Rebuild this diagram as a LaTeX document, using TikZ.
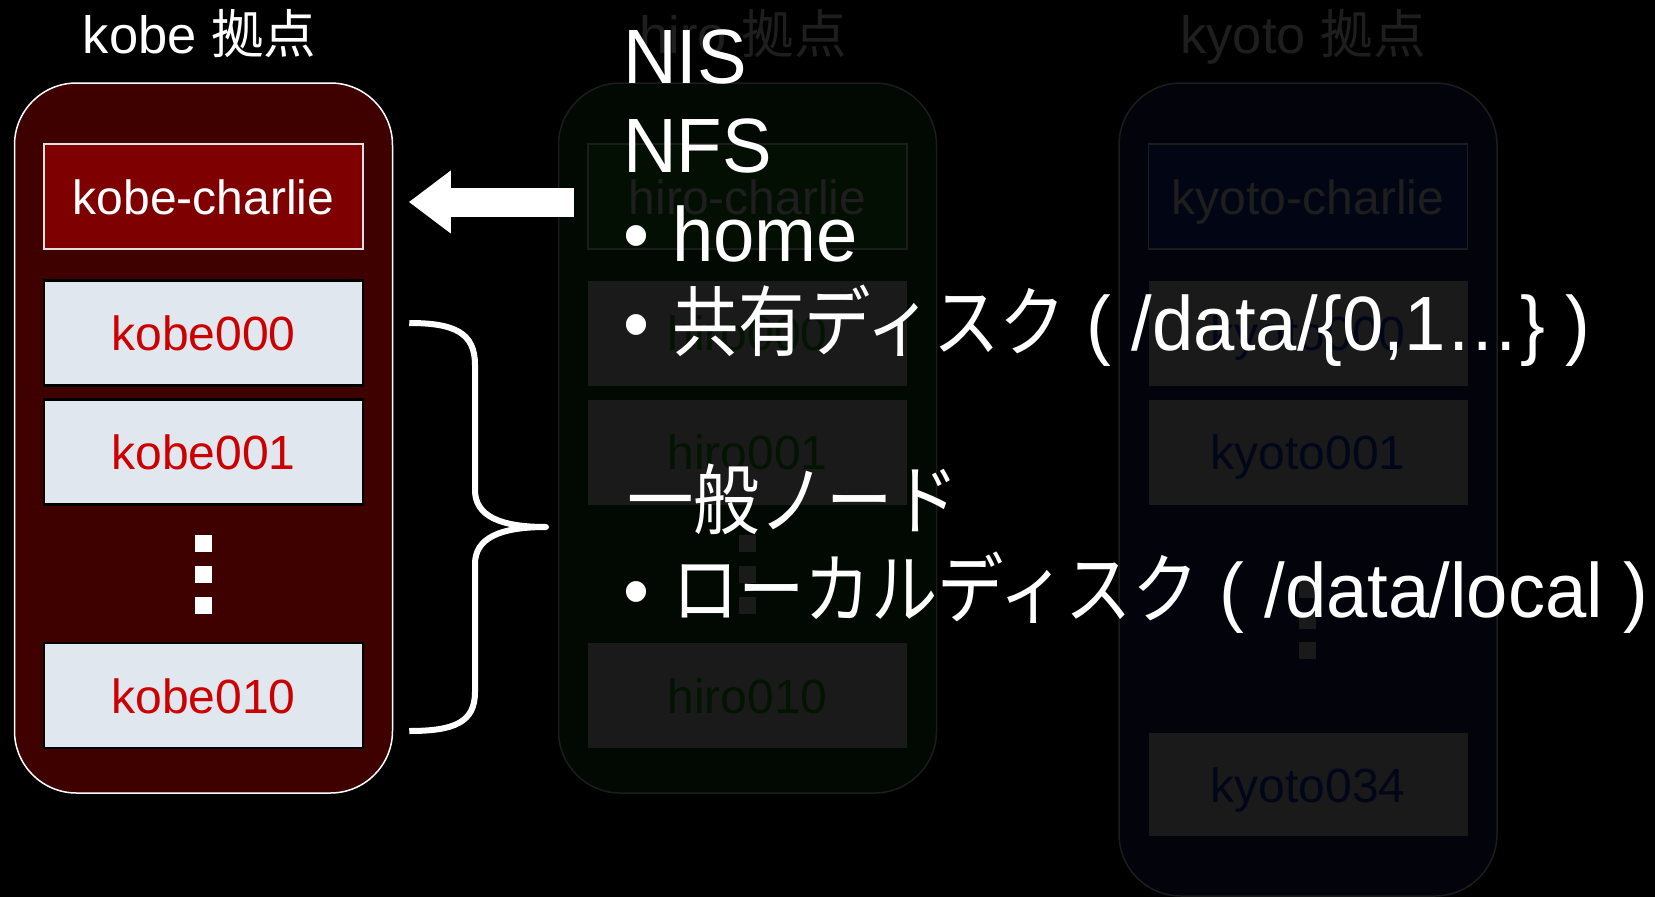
\documentclass[tikz,border=0pt]{standalone}
\usepackage{fontspec}
\setmainfont{Liberation Sans}
\newfontfamily\jp{Noto Sans CJK JP}
\newfontfamily\jpn[FakeStretch=0.862]{Noto Sans CJK JP}
\newfontfamily\ovl[FakeStretch=0.965]{Liberation Sans}
\usetikzlibrary{arrows.meta}

% kobe site
\definecolor{kobesite}{HTML}{3F0000}
\definecolor{kobehead}{HTML}{7F0000}
\definecolor{nodefill}{HTML}{E0E7EE}
\definecolor{nodetext}{HTML}{CC0000}
% dimmed sites
\definecolor{dimline}{HTML}{1C1C1C}
\definecolor{dimbox}{HTML}{1A1A1A}
\definecolor{dimtext}{HTML}{1E1E1E}
\definecolor{hirosite}{HTML}{020802}
\definecolor{hirohead}{HTML}{030F03}
\definecolor{hirotext}{HTML}{031403}
\definecolor{kyotosite}{HTML}{02030B}
\definecolor{kyotohead}{HTML}{020614}
\definecolor{kyototext}{HTML}{020619}

\newcommand\bul{\makebox[49pt][l]{•}}

\begin{document}
\begin{tikzpicture}[x=1pt,y=-1pt,
  site/.style={rounded corners=62pt, minimum width=378pt, inner sep=0pt, line width=1.5pt},
  box/.style={minimum width=319pt, minimum height=105pt, inner sep=0pt,
    text height=35pt, text depth=0pt, font=\fontsize{48}{58}\selectfont},
  headbox/.style={box, line width=1.5pt},
  workbox/.style={box, line width=2.5pt},
  dotsq/.style={minimum size=17pt, inner sep=0pt},
  title/.style={anchor=base, inner sep=0pt, font=\fontsize{52.5}{62}\selectfont},
  txt/.style={anchor=base west, inner sep=0pt, text=white, font=\fontsize{77}{90}\ovl}]

\fill[black] (0,0) rectangle (1655,897);
\useasboundingbox (0,0) rectangle (1655,897);

% ---- kobe ----
\node[title, text=white] (kobet) at (199.5,53) {kobe {\jp 拠点}};
\node[site, draw=white, fill=kobesite, minimum height=710pt] (kobe) at (203.5,438) {};
\node[headbox, draw=white!88!black, fill=kobehead, text=white] (kc) at (203.5,196.5) {kobe-charlie};
\node[workbox, draw=black, fill=nodefill, text=nodetext] (k0) at (203.5,333) {kobe000};
\node[workbox, draw=black, fill=nodefill, text=nodetext] (k1) at (203.5,452) {kobe001};
\node[dotsq, fill=white] (kd1) at (203,543.5) {};
\node[dotsq, fill=white] (kd2) at (203,574.5) {};
\node[dotsq, fill=white] (kd3) at (203,605.5) {};
\node[workbox, draw=black, fill=nodefill, text=nodetext] (k10) at (203.5,695.5) {kobe010};

% ---- hiro ----
\node[title, text=dimtext] (hirot) at (743,53) {hiro {\jp 拠点}};
\node[site, draw=dimline, fill=hirosite, minimum height=710pt] (hiro) at (747.5,438) {};
\node[headbox, draw=dimline, fill=hirohead, text=dimtext] (hc) at (747.5,196.5) {hiro-charlie};
\node[box, fill=dimbox, text=hirotext] (h0) at (747.5,333) {hiro000};
\node[box, fill=dimbox, text=hirotext] (h1) at (747.5,452) {hiro001};
\node[dotsq, fill=dimbox] (hd1) at (747.5,543.5) {};
\node[dotsq, fill=dimbox] (hd2) at (747.5,574.5) {};
\node[dotsq, fill=dimbox] (hd3) at (747.5,605.5) {};
\node[box, fill=dimbox, text=hirotext] (h10) at (747.5,695.5) {hiro010};

% ---- kyoto ----
\node[title, text=dimtext] (kyotot) at (1303,53) {kyoto {\jp 拠点}};
\node[site, draw=dimline, fill=kyotosite, minimum height=813pt] (kyoto) at (1308,489.5) {};
\node[headbox, draw=dimline, fill=kyotohead, text=dimtext] (yc) at (1308,196.5) {kyoto-charlie};
\node[box, fill=dimbox, text=kyototext] (y0) at (1308,333) {kyoto000};
\node[box, fill=dimbox, text=kyototext] (y1) at (1308,452) {kyoto001};
\node[dotsq, fill=dimbox] (yd1) at (1307.5,589.5) {};
\node[dotsq, fill=dimbox] (yd2) at (1307.5,620) {};
\node[dotsq, fill=dimbox] (yd3) at (1307.5,650.5) {};
\node[box, fill=dimbox, text=kyototext, minimum height=103pt] (y34) at (1308,784.5) {kyoto034};

% ---- block arrow towards kobe-charlie ----
\coordinate (tail) at (574,202);
\coordinate (tip) at ([xshift=45pt,yshift=-5.5pt]kc.east);
\draw[white, line width=29pt, -{Triangle[length=42pt,width=60pt]}] (tail) -- (tip);

% ---- brace over the compute nodes ----
\coordinate (bt) at ([xshift=45pt,yshift=10pt]k0.east);
\coordinate (bm) at (546,527);
\coordinate (bb) at ([xshift=45pt,yshift=-35.5pt]k10.east);
\draw[white, line width=6pt, line join=round]
  (bt) .. controls (455,323) and (475,333) .. (475,365)
  -- (475,490) .. controls (475,516) and (500,527) .. (bm)
  .. controls (500,527) and (475,538) .. (475,564)
  -- (475,692) .. controls (475,722) and (455,731) .. (bb);

% ---- description text ----
\node[txt] (nis) at (623,83) {NIS};
\node[txt] (nfs) at (623,172) {NFS};
\node[txt] (home) at (623,261) {\bul home};
\node[txt] (share) at (623,350) {\bul{\jpn 共有ディスク} ( /data/\{0,1…\} )};
\node[txt] (general) at (627,528) {{\jpn 一般ノード}};
\node[txt] (local) at (623,617) {\bul{\jpn ローカルディスク} ( /data/local )};
\end{tikzpicture}
\end{document}
